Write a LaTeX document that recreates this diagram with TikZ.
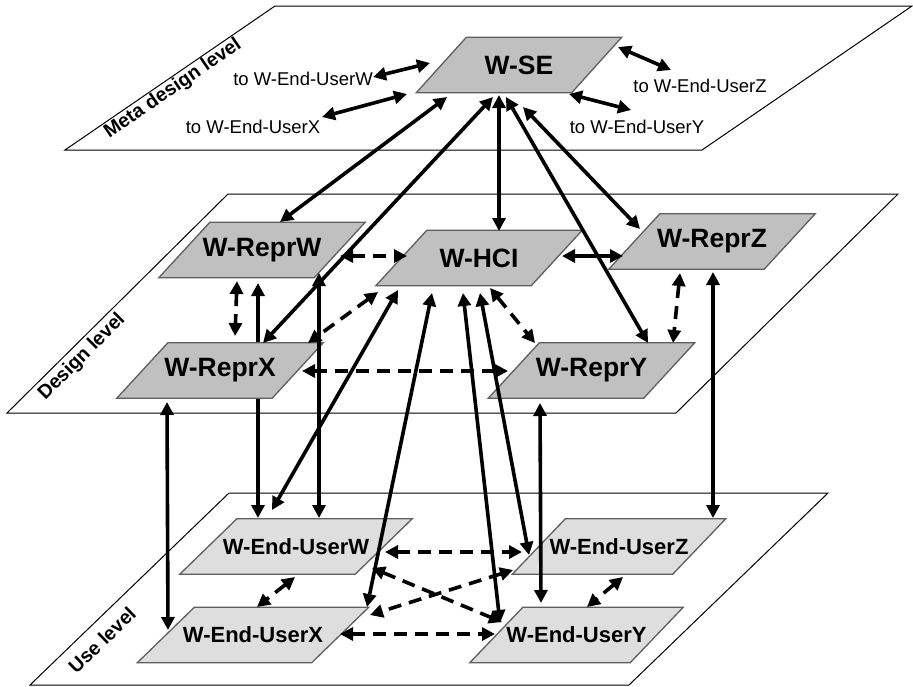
\documentclass[tikz,border=0pt]{standalone}
\usepackage{fontspec}
\setmainfont{Liberation Sans}
\usetikzlibrary{arrows.meta,calc}
\definecolor{boxdark}{RGB}{192,192,192}
\definecolor{boxlight}{RGB}{222,222,222}
\definecolor{boxedge}{RGB}{95,95,95}
\pgfdeclarelayer{planes}
\pgfdeclarelayer{behind}
\pgfdeclarelayer{boxes}
\pgfsetlayers{planes,behind,boxes,main}
\newcommand\pbox[3]{%
  \begin{pgfonlayer}{boxes}
  \path[#2] ([xshift=#3]#1.north west) -- ([xshift=#3]#1.north east) -- ([xshift=-#3]#1.south east) -- ([xshift=-#3]#1.south west) -- cycle;
  \end{pgfonlayer}}
\tikzset{
  hi/.style={minimum width=155pt, minimum height=55pt, inner sep=0pt, text=black,
    font=\fontsize{26.5}{30}\selectfont\bfseries},
  eu/.style={minimum height=55pt, inner sep=0pt, text=black,
    font=\fontsize{22}{25}\selectfont\bfseries},
  darkfill/.style={fill=boxdark, draw=boxedge, line width=1.3pt, line join=miter},
  lightfill/.style={fill=boxlight, draw=boxedge, line width=1.3pt, line join=miter},
  plane/.style={draw=black, fill=white, line width=1pt},
  plabel/.style={inner sep=0pt, font=\fontsize{19.5}{23}\selectfont\bfseries},
  tlabel/.style={inner sep=0pt, font=\fontsize{18.5}{22}\selectfont},
  link/.style={line width=3.6pt, {Triangle[length=13pt,width=13pt]}-{Triangle[length=13pt,width=13pt]}},
  dlink/.style={link, dash pattern=on 13pt off 8pt}
}
\begin{document}
\begin{tikzpicture}[x=1pt,y=-1pt]
\useasboundingbox (0,0) rectangle (913,686);
% planes
\begin{pgfonlayer}{planes}
\draw[plane] (275,6) -- (912,6) -- (702,150) -- (65,150) -- cycle;
\draw[plane] (228,194) -- (898,194) -- (676,413) -- (7,413) -- cycle;
\draw[plane] (229,493) -- (828,493) -- (629,685) -- (30,685) -- cycle;
\end{pgfonlayer}
\node[plabel, rotate=34.5] (lmeta) at (173,89) {Meta design level};
\node[plabel, rotate=45] (ldesign) at (82,357) {Design level};
\node[plabel, rotate=44] (luse) at (102,640) {Use level};
% nodes
\node[hi] (wse) at (519,65) {W-SE};
\node[hi] (reprw) at (262,250) {W-ReprW};
\node[hi] (reprx) at (220,370.5) {W-ReprX};
\node[hi] (hci) at (479,258) {W-HCI};
\node[hi] (reprz) at (712,241.5) {W-ReprZ};
\node[hi] (repry) at (591.5,370.5) {W-ReprY};
\node[eu, minimum width=175pt] (euw) at (296,546.5) {W-End-UserW};
\node[eu, minimum width=174pt] (eux) at (253,635) {W-End-UserX};
\node[eu, minimum width=160pt] (euz) at (619,546.5) {W-End-UserZ};
\node[eu, minimum width=160pt] (euy) at (576.5,635) {W-End-UserY};
\pbox{wse}{darkfill}{25pt}
\pbox{reprw}{darkfill}{25.5pt}
\pbox{reprx}{darkfill}{25.5pt}
\pbox{hci}{darkfill}{25.5pt}
\pbox{reprz}{darkfill}{25.5pt}
\pbox{repry}{darkfill}{25.5pt}
\pbox{euw}{lightfill}{28.5pt}
\pbox{eux}{lightfill}{28.5pt}
\pbox{euz}{lightfill}{26.5pt}
\pbox{euy}{lightfill}{26.5pt}
% top labels
\node[tlabel] (lw) at (303,79) {to W-End-UserW};
\node[tlabel] (lx) at (253,127) {to W-End-UserX};
\node[tlabel] (lz) at (700,86) {to W-End-UserZ};
\node[tlabel] (ly) at (637,127) {to W-End-UserY};
% meta level links
\draw[link] ($(lw.center)+(70,-2)$) -- ($(wse.center)+(-89,-2)$);
\draw[link] ($(lx.center)+(69,-10)$) -- ($(wse.center)+(-112,29)$);
\draw[link] ($(wse.center)+(99,-18)$) -- ($(lz.center)+(-29,-16)$);
\draw[link] ($(wse.center)+(50,29)$) -- ($(ly.center)+(-6,-17)$);
% W-SE to design level
\draw[link] ($(wse.center)+(-72,32)$) -- ($(reprw.center)+(18,-28)$);
\draw[link] ($(wse.center)+(-26,32)$) -- ($(reprx.center)+(43,-27.5)$);
\draw[link] ($(wse.center)+(-20,30)$) -- ($(hci.center)+(20,-27)$);
\draw[link] ($(wse.center)+(-13,32)$) -- ($(repry.center)+(56.5,-27.5)$);
\draw[link] ($(wse.center)+(4,42)$) -- ($(reprz.center)+(-72,-12.5)$);
% design level
\draw[dlink] ($(reprw.center)+(78,6)$) -- ($(hci.center)+(-72,-2)$);
\draw[link] ($(hci.center)+(83,-2)$) -- ($(reprz.center)+(-89,14.5)$);
\draw[dlink] ($(reprx.center)+(82,0.5)$) -- ($(repry.center)+(-83.5,0.5)$);
\draw[dlink] ($(reprw.center)+(-25,31)$) -- ($(reprx.center)+(15,-34.5)$);
\draw[dlink] ($(reprz.center)+(-32,31.5)$) -- ($(repry.center)+(81.5,-27.5)$);
\draw[dlink] ($(hci.center)+(-101,34)$) -- ($(reprx.center)+(88,-27.5)$);
\draw[dlink] ($(hci.center)+(11,30)$) -- ($(repry.center)+(-56.5,-27.5)$);
% design to use level
\draw[link] ($(reprx.center)+(-53,31.5)$) -- ($(eux.center)+(-85,-5)$);
\begin{pgfonlayer}{behind}
\draw[link] ($(reprw.center)+(-4,33)$) -- ($(euw.center)+(-38,-28.5)$);
\end{pgfonlayer}
\draw[link] ($(reprw.center)+(57,23)$) -- ($(euw.center)+(23,-28.5)$);
\draw[link] ($(hci.center)+(-81,32)$) -- ($(euw.center)+(-24,-36.5)$);
\draw[link] ($(hci.center)+(-47,35)$) -- ($(eux.center)+(114,-28)$);
\draw[link] ($(hci.center)+(-16,35)$) -- ($(euy.center)+(-76.5,-12)$);
\draw[link] ($(hci.center)+(1,35)$) -- ($(euz.center)+(-90,8.5)$);
\draw[link] ($(repry.center)+(-51.5,32.5)$) -- ($(euy.center)+(-35.5,-32)$);
\draw[link] ($(reprz.center)+(1,30.5)$) -- ($(euz.center)+(94,-28.5)$);
% use level
\draw[dlink] ($(euw.center)+(89,5.5)$) -- ($(euz.center)+(-97,5.5)$);
\draw[dlink] ($(eux.center)+(87,-1)$) -- ($(euy.center)+(-81.5,-1)$);
\draw[dlink] ($(euw.center)+(76,21.5)$) -- ($(euy.center)+(-74.5,-13)$);
\draw[dlink] ($(euz.center)+(-106,23.5)$) -- ($(eux.center)+(117,-20)$);
\draw[dlink] ($(euw.center)+(-1,30.5)$) -- ($(eux.center)+(4,-28)$);
\draw[dlink] ($(euz.center)+(4,30.5)$) -- ($(euy.center)+(10.5,-28)$);
\end{tikzpicture}
\end{document}
